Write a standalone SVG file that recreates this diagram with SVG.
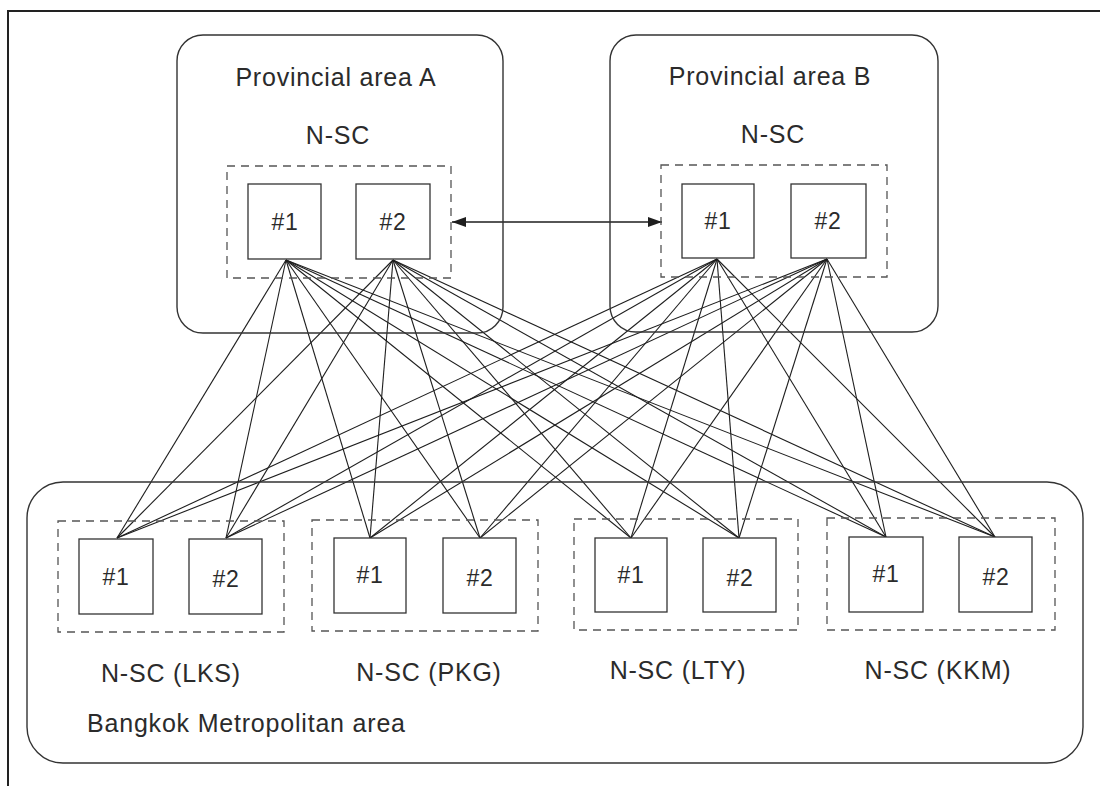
<svg xmlns="http://www.w3.org/2000/svg" width="1100" height="786" viewBox="0 0 1100 786">
  <style>
    .frame { fill: none; stroke: #222; stroke-width: 2; }
    .area { fill: none; stroke: #333; stroke-width: 1.4; }
    .group { fill: none; stroke: #555; stroke-width: 1.3; stroke-dasharray: 8 6; }
    .unit { fill: #fff; stroke: #333; stroke-width: 1.3; }
    .link { stroke: #1e1e1e; stroke-width: 1.1; fill: none; }
    .arrow { stroke: #1e1e1e; stroke-width: 1.3; fill: none; }
    text { font-family: "Liberation Sans", Arial, sans-serif; fill: #2b2b2b; }
    .title { font-size: 25px; letter-spacing: 0.8px; text-anchor: middle; }
    .label { font-size: 25px; letter-spacing: 0.8px; }
    .num { font-size: 23px; letter-spacing: 0.6px; text-anchor: middle; }
  </style>
  <defs>
    <marker id="head" viewBox="0 0 14 10" refX="14" refY="5" markerWidth="14" markerHeight="10" markerUnits="userSpaceOnUse" orient="auto-start-reverse">
      <path d="M0,0 L14,5 L0,10 Z" fill="#1e1e1e"/>
    </marker>
  </defs>

  <rect width="1100" height="786" fill="#fff"/>

  <!-- page frame (top and left rules) -->
  <path class="frame" d="M8,786 V11 H1100"/>

  <!-- connectors: every provincial unit to every metropolitan unit -->
  <g id="connectors">
    <g id="links-a1">
      <line class="link" x1="286" y1="260" x2="117" y2="538"/>
      <line class="link" x1="286" y1="260" x2="226" y2="538"/>
      <line class="link" x1="286" y1="260" x2="370" y2="538"/>
      <line class="link" x1="286" y1="260" x2="480" y2="538"/>
      <line class="link" x1="286" y1="260" x2="631" y2="538"/>
      <line class="link" x1="286" y1="260" x2="739" y2="538"/>
      <line class="link" x1="286" y1="260" x2="886" y2="537"/>
      <line class="link" x1="286" y1="260" x2="995" y2="537"/>
    </g>
    <g id="links-a2">
      <line class="link" x1="393" y1="260" x2="117" y2="538"/>
      <line class="link" x1="393" y1="260" x2="226" y2="538"/>
      <line class="link" x1="393" y1="260" x2="370" y2="538"/>
      <line class="link" x1="393" y1="260" x2="480" y2="538"/>
      <line class="link" x1="393" y1="260" x2="631" y2="538"/>
      <line class="link" x1="393" y1="260" x2="739" y2="538"/>
      <line class="link" x1="393" y1="260" x2="886" y2="537"/>
      <line class="link" x1="393" y1="260" x2="995" y2="537"/>
    </g>
    <g id="links-b1">
      <line class="link" x1="717" y1="259" x2="117" y2="538"/>
      <line class="link" x1="717" y1="259" x2="226" y2="538"/>
      <line class="link" x1="717" y1="259" x2="370" y2="538"/>
      <line class="link" x1="717" y1="259" x2="480" y2="538"/>
      <line class="link" x1="717" y1="259" x2="631" y2="538"/>
      <line class="link" x1="717" y1="259" x2="739" y2="538"/>
      <line class="link" x1="717" y1="259" x2="886" y2="537"/>
      <line class="link" x1="717" y1="259" x2="995" y2="537"/>
    </g>
    <g id="links-b2">
      <line class="link" x1="827" y1="259" x2="117" y2="538"/>
      <line class="link" x1="827" y1="259" x2="226" y2="538"/>
      <line class="link" x1="827" y1="259" x2="370" y2="538"/>
      <line class="link" x1="827" y1="259" x2="480" y2="538"/>
      <line class="link" x1="827" y1="259" x2="631" y2="538"/>
      <line class="link" x1="827" y1="259" x2="739" y2="538"/>
      <line class="link" x1="827" y1="259" x2="886" y2="537"/>
      <line class="link" x1="827" y1="259" x2="995" y2="537"/>
    </g>
    <!-- link between the two provincial centres -->
    <line id="a-b-link" class="arrow" x1="452" y1="222" x2="662" y2="222" marker-start="url(#head)" marker-end="url(#head)"/>
  </g>

  <!-- Provincial area A -->
  <g id="area-a">
    <rect class="area" x="177" y="35" width="326" height="298" rx="26"/>
    <text class="title" x="336" y="86">Provincial area A</text>
    <text class="title" x="338" y="144">N-SC</text>
    <rect class="group" x="227" y="166" width="224" height="112"/>
    <g id="a-1">
      <rect class="unit" x="248" y="184" width="73" height="75"/>
      <text class="num" x="285" y="230">#1</text>
    </g>
    <g id="a-2">
      <rect class="unit" x="356" y="184" width="74" height="75"/>
      <text class="num" x="393" y="230">#2</text>
    </g>
  </g>

  <!-- Provincial area B -->
  <g id="area-b">
    <rect class="area" x="610" y="35" width="328" height="297" rx="26"/>
    <text class="title" x="770" y="85">Provincial area B</text>
    <text class="title" x="773" y="143">N-SC</text>
    <rect class="group" x="661" y="165" width="226" height="112"/>
    <g id="b-1">
      <rect class="unit" x="682" y="184" width="72" height="74"/>
      <text class="num" x="718" y="229">#1</text>
    </g>
    <g id="b-2">
      <rect class="unit" x="791" y="184" width="75" height="74"/>
      <text class="num" x="828" y="229">#2</text>
    </g>
  </g>

  <!-- Bangkok Metropolitan area -->
  <g id="bangkok">
    <rect class="area" x="27" y="482" width="1056" height="281" rx="36"/>
    <text class="label" x="87" y="732">Bangkok Metropolitan area</text>

    <g id="nsc-lks">
      <rect class="group" x="58" y="521" width="226" height="111"/>
      <g id="lks-1">
        <rect class="unit" x="79" y="539" width="74" height="75"/>
        <text class="num" x="116" y="585">#1</text>
      </g>
      <g id="lks-2">
        <rect class="unit" x="189" y="539" width="73" height="75"/>
        <text class="num" x="226" y="587">#2</text>
      </g>
      <text class="title" x="171" y="682">N-SC (LKS)</text>
    </g>

    <g id="nsc-pkg">
      <rect class="group" x="312" y="520" width="226" height="111"/>
      <g id="pkg-1">
        <rect class="unit" x="334" y="538" width="72" height="75"/>
        <text class="num" x="370" y="583">#1</text>
      </g>
      <g id="pkg-2">
        <rect class="unit" x="443" y="538" width="73" height="75"/>
        <text class="num" x="480" y="586">#2</text>
      </g>
      <text class="title" x="429" y="681">N-SC (PKG)</text>
    </g>

    <g id="nsc-lty">
      <rect class="group" x="574" y="519" width="224" height="111"/>
      <g id="lty-1">
        <rect class="unit" x="595" y="538" width="72" height="74"/>
        <text class="num" x="631" y="583">#1</text>
      </g>
      <g id="lty-2">
        <rect class="unit" x="703" y="538" width="73" height="74"/>
        <text class="num" x="740" y="586">#2</text>
      </g>
      <text class="title" x="678" y="679">N-SC (LTY)</text>
    </g>

    <g id="nsc-kkm">
      <rect class="group" x="827" y="518" width="228" height="112"/>
      <g id="kkm-1">
        <rect class="unit" x="849" y="537" width="74" height="75"/>
        <text class="num" x="886" y="582">#1</text>
      </g>
      <g id="kkm-2">
        <rect class="unit" x="959" y="537" width="73" height="75"/>
        <text class="num" x="996" y="585">#2</text>
      </g>
      <text class="title" x="938" y="679">N-SC (KKM)</text>
    </g>
  </g>
</svg>
